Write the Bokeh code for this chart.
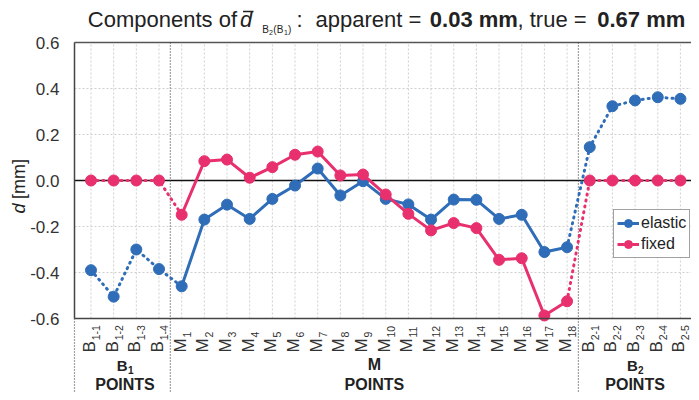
import math
from bokeh.plotting import figure
from bokeh.models import Range1d, FixedTicker, Label, Arrow, Legend, LegendItem, LinearAxis
from bokeh.embed import file_html
from bokeh.resources import INLINE

# ---------------- data ----------------
categories = ["B1-1", "B1-2", "B1-3", "B1-4",
              "M1", "M2", "M3", "M4", "M5", "M6", "M7", "M8", "M9",
              "M10", "M11", "M12", "M13", "M14", "M15", "M16", "M17", "M18",
              "B2-1", "B2-2", "B2-3", "B2-4", "B2-5"]
tick_main = ["B", "B", "B", "B",
             "M", "M", "M", "M", "M", "M", "M", "M", "M",
             "M", "M", "M", "M", "M", "M", "M", "M", "M",
             "B", "B", "B", "B", "B"]
tick_sub = ["1-1", "1-2", "1-3", "1-4",
            "1", "2", "3", "4", "5", "6", "7", "8", "9",
            "10", "11", "12", "13", "14", "15", "16", "17", "18",
            "2-1", "2-2", "2-3", "2-4", "2-5"]
elastic = [-0.39, -0.505, -0.30, -0.385,
           -0.46, -0.17, -0.105, -0.167, -0.08, -0.022, 0.052, -0.065, -0.003,
           -0.08, -0.104, -0.17, -0.083, -0.084, -0.167, -0.149, -0.311, -0.29,
           0.145, 0.323, 0.348, 0.362, 0.355]
fixed = [0.0, 0.0, 0.0, 0.0,
         -0.149, 0.084, 0.091, 0.012, 0.058, 0.112, 0.126, 0.022, 0.026,
         -0.061, -0.145, -0.217, -0.185, -0.207, -0.345, -0.338, -0.587, -0.525,
         0.0, 0.0, 0.0, 0.0, 0.0]
y_ticks = [-0.6, -0.4, -0.2, 0.0, 0.2, 0.4, 0.6]
y_tick_labels = ["-0.6", "-0.4", "-0.2", "0.0", "0.2", "0.4", "0.6"]
groups = [("B", "1", 1.5), ("M", "", 12.5), ("B", "2", 24.0)]
separators = [3.5, 21.5]
series_names = ["elastic", "fixed"]

FONT = "Liberation Sans"
BLUE = "#2f6db8"
PINK = "#e8306e"

# ---------------- geometry (canvas px -> data) ----------------
W, H = 691, 392
A, XS = 90.5, 22.67          # px of first category, px per category
YS = 230.0                   # px per mm
def dx(px):
    return (px - A) / XS
def dy(py):
    return 0.6 - (py - 42) / YS
X0 = dx(74)                  # left edge of the data area
XE = dx(W)
YB, YT = -0.6, 0.6

p = figure(width=W, height=H, output_backend="svg", toolbar_location=None,
           x_range=Range1d(dx(0), dx(W)), y_range=Range1d(dy(H), dy(0)),
           x_axis_location=None, y_axis_location=None,
           min_border=0, min_border_left=0, min_border_right=0,
           min_border_top=0, min_border_bottom=0, title=None)
p.background_fill_color = "white"
p.border_fill_color = "white"
p.outline_line_color = None
p.xgrid.visible = False
p.ygrid.visible = False

# grid lines (dotted) inside the data area
idx = list(range(len(categories)))
p.segment(x0=idx, y0=[YB] * len(idx), x1=idx, y1=[YT] * len(idx),
          line_color="#cfcfcf", line_width=1, line_dash="2 2")
p.segment(x0=[X0] * len(y_ticks), y0=y_ticks, x1=[XE] * len(y_ticks), y1=y_ticks,
          line_color="#cfcfcf", line_width=1, line_dash="2 2")

# top border and zero line
p.segment(x0=[X0], y0=[YT], x1=[XE], y1=[YT], line_color="#555555", line_width=1.5)
p.segment(x0=[X0], y0=[0.0], x1=[XE], y1=[0.0], line_color="#111111", line_width=1.5)

# separators (extend below the axis)
p.segment(x0=separators, y0=[YT] * 2, x1=separators, y1=[dy(H)] * 2,
          line_color="#444444", line_width=1.2, line_dash="1 2")
p.segment(x0=[X0], y0=[YB], x1=[X0], y1=[dy(H)],
          line_color="#444444", line_width=1.2, line_dash="1 2")

# axes at fixed locations
yax = LinearAxis(fixed_location=X0, bounds=(YB, YT), ticker=FixedTicker(ticks=y_ticks))
yax.major_label_overrides = {t: l for t, l in zip(y_ticks, y_tick_labels)}
yax.major_tick_line_color = None
yax.minor_tick_line_color = None
yax.axis_line_color = "#444444"
yax.axis_line_width = 1.5
yax.major_label_text_font = FONT
yax.major_label_text_font_size = "17px"
yax.major_label_text_color = "#333333"
yax.major_label_standoff = 9
p.add_layout(yax, "left")

xax = LinearAxis(fixed_location=YB, bounds=(X0, XE), ticker=FixedTicker(ticks=idx))
xax.major_label_overrides = {i: "" for i in idx}
xax.major_tick_line_color = None
xax.minor_tick_line_color = None
xax.axis_line_color = "#444444"
xax.axis_line_width = 1.5
p.add_layout(xax, "below")

# ---------------- series ----------------
a, b = 4, 21
lines = {}
pts = {}
for name, vals, col in [("elastic", elastic, BLUE), ("fixed", fixed, PINK)]:
    p.line(idx[:a + 1], vals[:a + 1], line_color=col, line_width=3,
           line_dash="1 5", line_cap="round")
    lines[name] = p.line(idx[a:b + 1], vals[a:b + 1], line_color=col, line_width=3)
    p.line(idx[b:], vals[b:], line_color=col, line_width=3,
           line_dash="1 5", line_cap="round")
    pts[name] = p.scatter(idx, vals, size=11, fill_color=col, line_color=col)

legend = Legend(items=[LegendItem(label=n, renderers=[lines[n], pts[n]]) for n in series_names],
                location=(613, H - 258), padding=3, spacing=1, margin=0,
                glyph_width=22, glyph_height=20, label_height=20, label_standoff=2,
                label_text_font=FONT, label_text_font_size="16px",
                label_text_color="#222222",
                border_line_color="#444444", border_line_width=1.5,
                background_fill_color="white", background_fill_alpha=1.0)
p.add_layout(legend)

# ---------------- texts ----------------
def txt(text, x, y, size, style="normal", color="#222222", angle=0.0,
        align="left", x_offset=0.0):
    c = 0.36 * size  # baseline correction (text frame, upward)
    if angle:
        xo, yo = x_offset - c, 0.0
    else:
        xo, yo = x_offset, c
    p.add_layout(Label(x=x, y=y, text=text, text_font=FONT,
                       text_font_size=f"{size}px", text_font_style=style,
                       text_color=color, angle=angle, text_align=align,
                       text_baseline="alphabetic", x_offset=xo, y_offset=yo))

# title
TB = 26.7
txt("Components of", dx(87.3), dy(TB), 22)
txt("d", dx(239.5), dy(TB), 22, "italic")
p.add_layout(Arrow(end=None, x_start=dx(242.5), y_start=dy(11), x_end=dx(253), y_end=dy(11),
                   line_color="#222222", line_width=1.5))
txt("B", dx(261.7), dy(32.7), 10)
txt("2", dx(268.6), dy(34.7), 7)
txt("(B", dx(272.8), dy(32.7), 10)
txt("1", dx(283.6), dy(34.7), 7)
txt(")", dx(287.5), dy(32.7), 10)
txt(":", dx(296.0), dy(TB), 22)
txt("apparent =", dx(315.0), dy(TB), 22)
txt("0.03 mm", dx(429.3), dy(TB), 22, "bold")
txt(", true =", dx(517.0), dy(TB), 22)
txt("0.67 mm", dx(596.7), dy(TB), 22, "bold")

# y-axis label
txt("d", dx(25), dy(213), 18, "italic", "#222222", math.pi / 2)
txt("[mm]", dx(25), dy(198.5), 18, "normal", "#222222", math.pi / 2)

# x tick labels (main letter + subscript), rotated
MAIN = 17
SUB = 10.5
for i, (m, s) in enumerate(zip(tick_main, tick_sub)):
    w = (0.667 if m == "B" else 0.833) * MAIN
    txt(m, i, dy(352), MAIN, "normal", "#333333", math.pi / 2, x_offset=4.6)
    txt(s, i, dy(352 - w - 0.8), SUB, "normal", "#333333", math.pi / 2, x_offset=8.8)

# group labels
for letter, sub, cx in groups:
    if sub:
        wl = 0.722 * 15
        ws = 0.556 * 10
        off = -(wl + ws) / 2
        txt(letter, cx, dy(370), 15, "bold", "#222222", x_offset=off)
        txt(sub, cx, dy(373.5), 10, "bold", "#222222", x_offset=off + wl + 0.3)
    else:
        txt(letter, cx, dy(370), 16, "bold", "#222222", align="center")
    txt("POINTS", cx, dy(390), 16, "bold", "#222222", align="center")

open("out.html", "w").write(file_html(p, INLINE))
